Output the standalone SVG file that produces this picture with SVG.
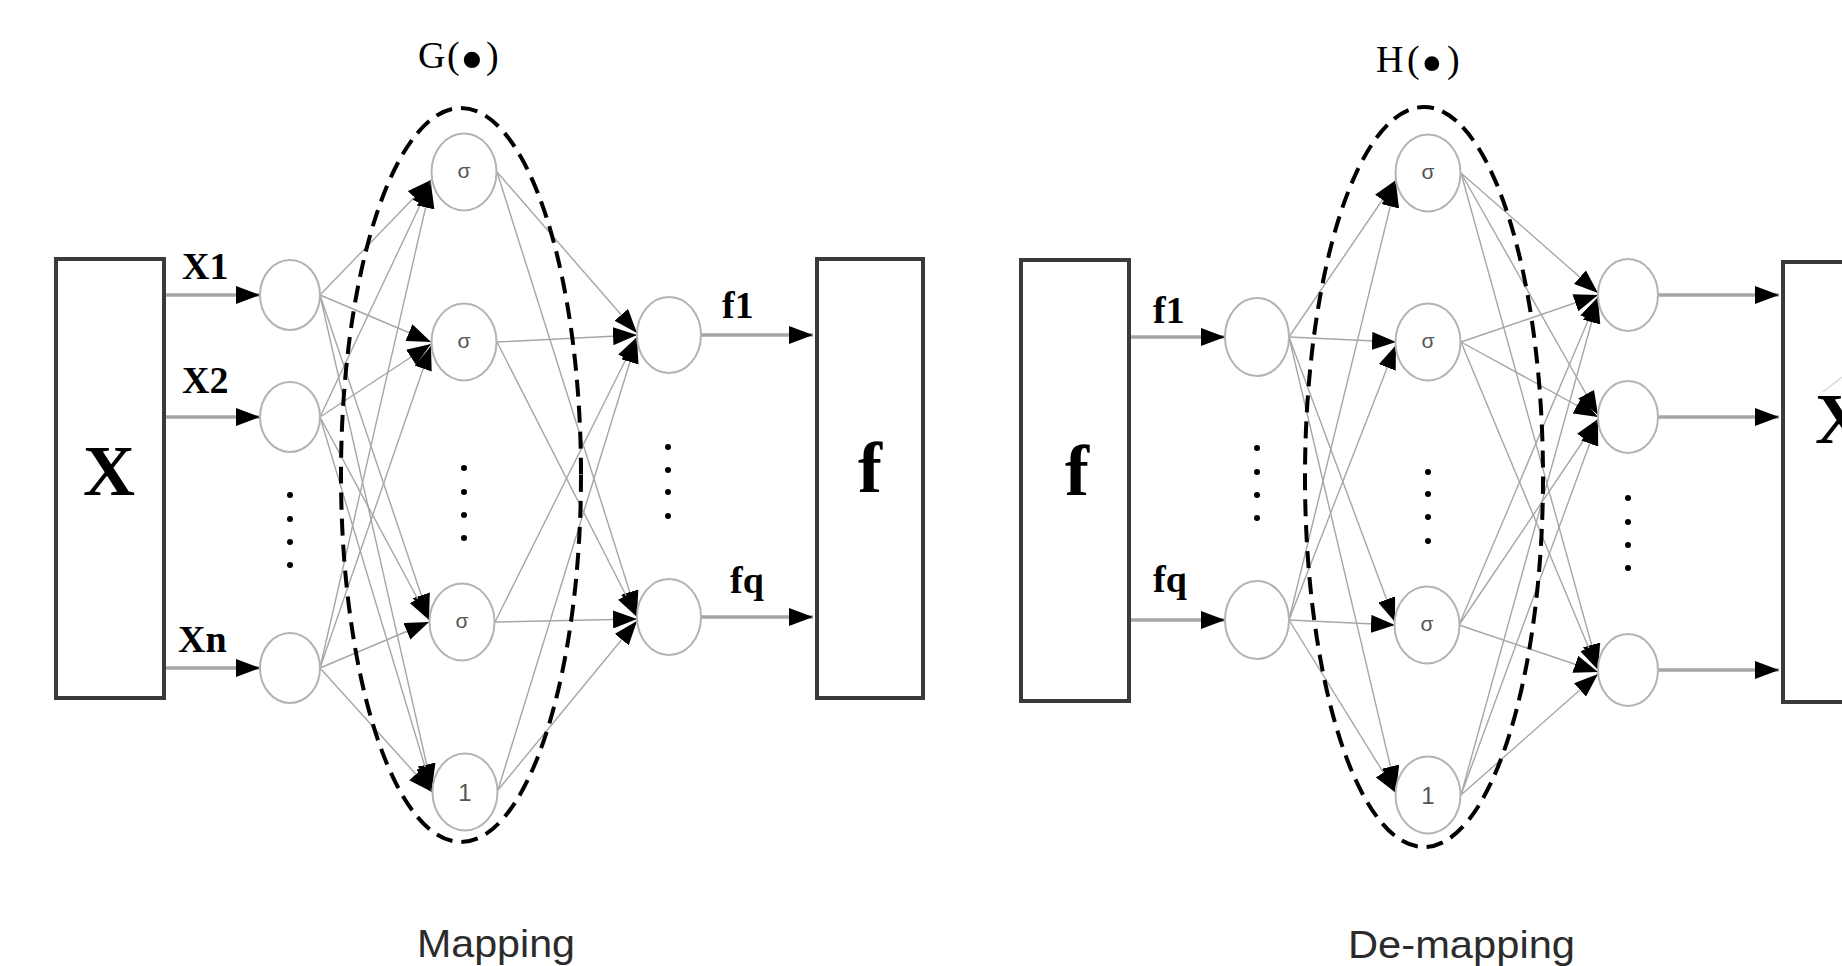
<svg xmlns="http://www.w3.org/2000/svg" width="1842" height="966" viewBox="0 0 1842 966">
<style>
.box{fill:#fff;stroke:#3a3a3a;stroke-width:4}
.node{fill:#fff;stroke:#b3b3b3;stroke-width:2}
.conn{stroke:#a6a6a6;stroke-width:1.4;fill:none}
.io{stroke:#a6a6a6;stroke-width:3.5;fill:none}
.dash{fill:none;stroke:#000;stroke-width:4;stroke-dasharray:17 9}
.lbl{font-family:"Liberation Serif","Times New Roman",serif;font-weight:bold;font-size:38px;fill:#000}
.big{font-family:"Liberation Serif","Times New Roman",serif;font-weight:bold;font-size:72px;fill:#000}
.fn{font-family:"Liberation Serif","Times New Roman",serif;font-size:38px;fill:#000}
.bul{font-size:68px}
.cap{font-family:"Liberation Sans",Arial,sans-serif;font-size:39px;fill:#2b2b2b}
.sym{font-family:"Liberation Sans",Arial,sans-serif;font-size:21px;fill:#555;text-anchor:middle}
.dot{fill:#000}
</style>
<defs>
<marker id="ah" viewBox="0 0 24 18" refX="24" refY="9" markerWidth="24" markerHeight="18" markerUnits="userSpaceOnUse" orient="auto">
<path d="M0,0 L24,9 L0,18 Z" fill="#000"/>
</marker>
</defs>
<rect width="1842" height="966" fill="#fff"/>

<g id="connectors">
<line class="io" x1="165" y1="295" x2="260" y2="295" marker-end="url(#ah)"/>
<line class="io" x1="165" y1="417" x2="260" y2="417" marker-end="url(#ah)"/>
<line class="io" x1="165" y1="668" x2="260" y2="668" marker-end="url(#ah)"/>
<line class="conn" x1="320" y1="295" x2="431" y2="180" marker-end="url(#ah)"/>
<line class="conn" x1="320" y1="295" x2="431" y2="342" marker-end="url(#ah)"/>
<line class="conn" x1="320" y1="295" x2="429" y2="618" marker-end="url(#ah)"/>
<line class="conn" x1="320" y1="295" x2="432" y2="788" marker-end="url(#ah)"/>
<line class="conn" x1="320" y1="417" x2="431" y2="182" marker-end="url(#ah)"/>
<line class="conn" x1="320" y1="417" x2="431" y2="344" marker-end="url(#ah)"/>
<line class="conn" x1="320" y1="417" x2="429" y2="620" marker-end="url(#ah)"/>
<line class="conn" x1="320" y1="417" x2="432" y2="790" marker-end="url(#ah)"/>
<line class="conn" x1="320" y1="668" x2="431" y2="184" marker-end="url(#ah)"/>
<line class="conn" x1="320" y1="668" x2="431" y2="346" marker-end="url(#ah)"/>
<line class="conn" x1="320" y1="668" x2="429" y2="622" marker-end="url(#ah)"/>
<line class="conn" x1="320" y1="668" x2="432" y2="792" marker-end="url(#ah)"/>
<line class="conn" x1="497" y1="172" x2="637" y2="333" marker-end="url(#ah)"/>
<line class="conn" x1="497" y1="172" x2="637" y2="615" marker-end="url(#ah)"/>
<line class="conn" x1="497" y1="342" x2="637" y2="335" marker-end="url(#ah)"/>
<line class="conn" x1="497" y1="342" x2="637" y2="617" marker-end="url(#ah)"/>
<line class="conn" x1="495" y1="622" x2="637" y2="337" marker-end="url(#ah)"/>
<line class="conn" x1="495" y1="622" x2="637" y2="619" marker-end="url(#ah)"/>
<line class="conn" x1="498" y1="790" x2="637" y2="339" marker-end="url(#ah)"/>
<line class="conn" x1="498" y1="790" x2="637" y2="621" marker-end="url(#ah)"/>
<line class="io" x1="701" y1="335" x2="813" y2="335" marker-end="url(#ah)"/>
<line class="io" x1="701" y1="617" x2="813" y2="617" marker-end="url(#ah)"/>

<line class="io" x1="1131" y1="337" x2="1225" y2="337" marker-end="url(#ah)"/>
<line class="io" x1="1131" y1="620" x2="1225" y2="620" marker-end="url(#ah)"/>
<line class="conn" x1="1289" y1="337" x2="1396" y2="180" marker-end="url(#ah)"/>
<line class="conn" x1="1289" y1="337" x2="1396" y2="342" marker-end="url(#ah)"/>
<line class="conn" x1="1289" y1="337" x2="1395" y2="622" marker-end="url(#ah)"/>
<line class="conn" x1="1289" y1="337" x2="1396" y2="790" marker-end="url(#ah)"/>
<line class="conn" x1="1289" y1="620" x2="1396" y2="183" marker-end="url(#ah)"/>
<line class="conn" x1="1289" y1="620" x2="1396" y2="345" marker-end="url(#ah)"/>
<line class="conn" x1="1289" y1="620" x2="1395" y2="625" marker-end="url(#ah)"/>
<line class="conn" x1="1289" y1="620" x2="1396" y2="793" marker-end="url(#ah)"/>
<line class="conn" x1="1461" y1="173" x2="1598" y2="293" marker-end="url(#ah)"/>
<line class="conn" x1="1461" y1="173" x2="1598" y2="415" marker-end="url(#ah)"/>
<line class="conn" x1="1461" y1="173" x2="1598" y2="668" marker-end="url(#ah)"/>
<line class="conn" x1="1461" y1="342" x2="1598" y2="295" marker-end="url(#ah)"/>
<line class="conn" x1="1461" y1="342" x2="1598" y2="417" marker-end="url(#ah)"/>
<line class="conn" x1="1461" y1="342" x2="1598" y2="670" marker-end="url(#ah)"/>
<line class="conn" x1="1459" y1="625" x2="1598" y2="297" marker-end="url(#ah)"/>
<line class="conn" x1="1459" y1="625" x2="1598" y2="419" marker-end="url(#ah)"/>
<line class="conn" x1="1459" y1="625" x2="1598" y2="672" marker-end="url(#ah)"/>
<line class="conn" x1="1461" y1="795" x2="1598" y2="299" marker-end="url(#ah)"/>
<line class="conn" x1="1461" y1="795" x2="1598" y2="421" marker-end="url(#ah)"/>
<line class="conn" x1="1461" y1="795" x2="1598" y2="674" marker-end="url(#ah)"/>
<line class="io" x1="1658" y1="295" x2="1779" y2="295" marker-end="url(#ah)"/>
<line class="io" x1="1658" y1="417" x2="1779" y2="417" marker-end="url(#ah)"/>
<line class="io" x1="1658" y1="670" x2="1779" y2="670" marker-end="url(#ah)"/>
</g>

<g id="box-X"><rect class="box" x="56" y="259" width="108" height="439"/><text class="big" x="109" y="495" text-anchor="middle">X</text></g>
<g id="label-X1"><text class="lbl" x="182" y="279">X1</text></g>
<g id="label-X2"><text class="lbl" x="182" y="393">X2</text></g>
<g id="label-Xn"><text class="lbl" x="178" y="652">Xn</text></g>
<g id="in1"><ellipse class="node" cx="290" cy="295" rx="30" ry="35"/></g>
<g id="in2"><ellipse class="node" cx="290" cy="417" rx="30" ry="35"/></g>
<g id="inn"><ellipse class="node" cx="290" cy="668" rx="30" ry="35"/></g>
<g id="in-dots"><circle class="dot" cx="290" cy="495" r="3"/><circle class="dot" cx="290" cy="519" r="3"/><circle class="dot" cx="290" cy="542" r="3"/><circle class="dot" cx="290" cy="565" r="3"/></g>
<g id="g-h1"><ellipse class="node" cx="464" cy="172" rx="32.5" ry="38.5"/><text class="sym" x="464" y="178">σ</text></g>
<g id="g-h2"><ellipse class="node" cx="464" cy="342" rx="32.5" ry="38.5"/><text class="sym" x="464" y="348">σ</text></g>
<g id="g-h3"><ellipse class="node" cx="462" cy="622" rx="32.5" ry="38.5"/><text class="sym" x="462" y="628">σ</text></g>
<g id="g-bias"><ellipse class="node" cx="465" cy="792" rx="32.5" ry="38.5"/><text class="sym" x="465" y="801" style="font-size:24px">1</text></g>
<g id="g-dots"><circle class="dot" cx="464" cy="468" r="3"/><circle class="dot" cx="464" cy="492" r="3"/><circle class="dot" cx="464" cy="515" r="3"/><circle class="dot" cx="464" cy="538" r="3"/></g>
<g id="G-group"><ellipse class="dash" cx="461" cy="475" rx="120" ry="367"/><text class="fn" y="68"><tspan x="418">G</tspan><tspan x="447">(</tspan><tspan class="bul" x="460" dy="14">•</tspan><tspan x="486" dy="-14">)</tspan></text></g>
<g id="out1"><ellipse class="node" cx="669" cy="335" rx="32" ry="38"/></g>
<g id="outq"><ellipse class="node" cx="669" cy="617" rx="32" ry="38"/></g>
<g id="out-dots"><circle class="dot" cx="668" cy="447" r="3"/><circle class="dot" cx="668" cy="470" r="3"/><circle class="dot" cx="668" cy="492" r="3"/><circle class="dot" cx="668" cy="516" r="3"/></g>
<g id="label-f1"><text class="lbl" x="722" y="318">f1</text></g>
<g id="label-fq"><text class="lbl" x="730" y="593">fq</text></g>
<g id="box-f"><rect class="box" x="817" y="259" width="106" height="439"/><text class="big" x="870" y="492" text-anchor="middle">f</text></g>
<g id="caption-mapping"><text class="cap" x="417" y="957" textLength="158" lengthAdjust="spacingAndGlyphs">Mapping</text></g>

<g id="box-f2"><rect class="box" x="1021" y="260" width="108" height="441"/><text class="big" x="1077" y="495" text-anchor="middle">f</text></g>
<g id="label-f1b"><text class="lbl" x="1153" y="323">f1</text></g>
<g id="label-fqb"><text class="lbl" x="1153" y="592">fq</text></g>
<g id="din1"><ellipse class="node" cx="1257" cy="337" rx="32" ry="39"/></g>
<g id="dinq"><ellipse class="node" cx="1257" cy="620" rx="32" ry="39"/></g>
<g id="din-dots"><circle class="dot" cx="1257" cy="448" r="3"/><circle class="dot" cx="1257" cy="472" r="3"/><circle class="dot" cx="1257" cy="495" r="3"/><circle class="dot" cx="1257" cy="518" r="3"/></g>
<g id="h-h1"><ellipse class="node" cx="1428" cy="173" rx="32.5" ry="38.5"/><text class="sym" x="1428" y="179">σ</text></g>
<g id="h-h2"><ellipse class="node" cx="1428" cy="342" rx="32.5" ry="38.5"/><text class="sym" x="1428" y="348">σ</text></g>
<g id="h-h3"><ellipse class="node" cx="1427" cy="625" rx="32.5" ry="38.5"/><text class="sym" x="1427" y="631">σ</text></g>
<g id="h-bias"><ellipse class="node" cx="1428" cy="795" rx="32.5" ry="38.5"/><text class="sym" x="1428" y="804" style="font-size:24px">1</text></g>
<g id="h-dots"><circle class="dot" cx="1428" cy="472" r="3"/><circle class="dot" cx="1428" cy="494" r="3"/><circle class="dot" cx="1428" cy="517" r="3"/><circle class="dot" cx="1428" cy="541" r="3"/></g>
<g id="H-group"><ellipse class="dash" cx="1424" cy="477" rx="119" ry="370"/><text class="fn" y="72"><tspan x="1376">H</tspan><tspan x="1407">(</tspan><tspan class="bul" x="1421" dy="12" style="font-size:62px">•</tspan><tspan x="1447" dy="-12">)</tspan></text></g>
<g id="dout1"><ellipse class="node" cx="1628" cy="295" rx="30" ry="36"/></g>
<g id="dout2"><ellipse class="node" cx="1628" cy="417" rx="30" ry="36"/></g>
<g id="dout3"><ellipse class="node" cx="1628" cy="670" rx="30" ry="36"/></g>
<g id="dout-dots"><circle class="dot" cx="1628" cy="498" r="3"/><circle class="dot" cx="1628" cy="522" r="3"/><circle class="dot" cx="1628" cy="545" r="3"/><circle class="dot" cx="1628" cy="568" r="3"/></g>
<g id="box-X2"><rect class="box" x="1783" y="262" width="120" height="440"/><text class="big" x="1815" y="443">X</text><line x1="1823" y1="392" x2="1842" y2="377" stroke="#d8d8d8" stroke-width="1.5"/></g>
<g id="caption-demapping"><text class="cap" x="1348" y="958" textLength="227" lengthAdjust="spacingAndGlyphs">De-mapping</text></g>
</svg>
